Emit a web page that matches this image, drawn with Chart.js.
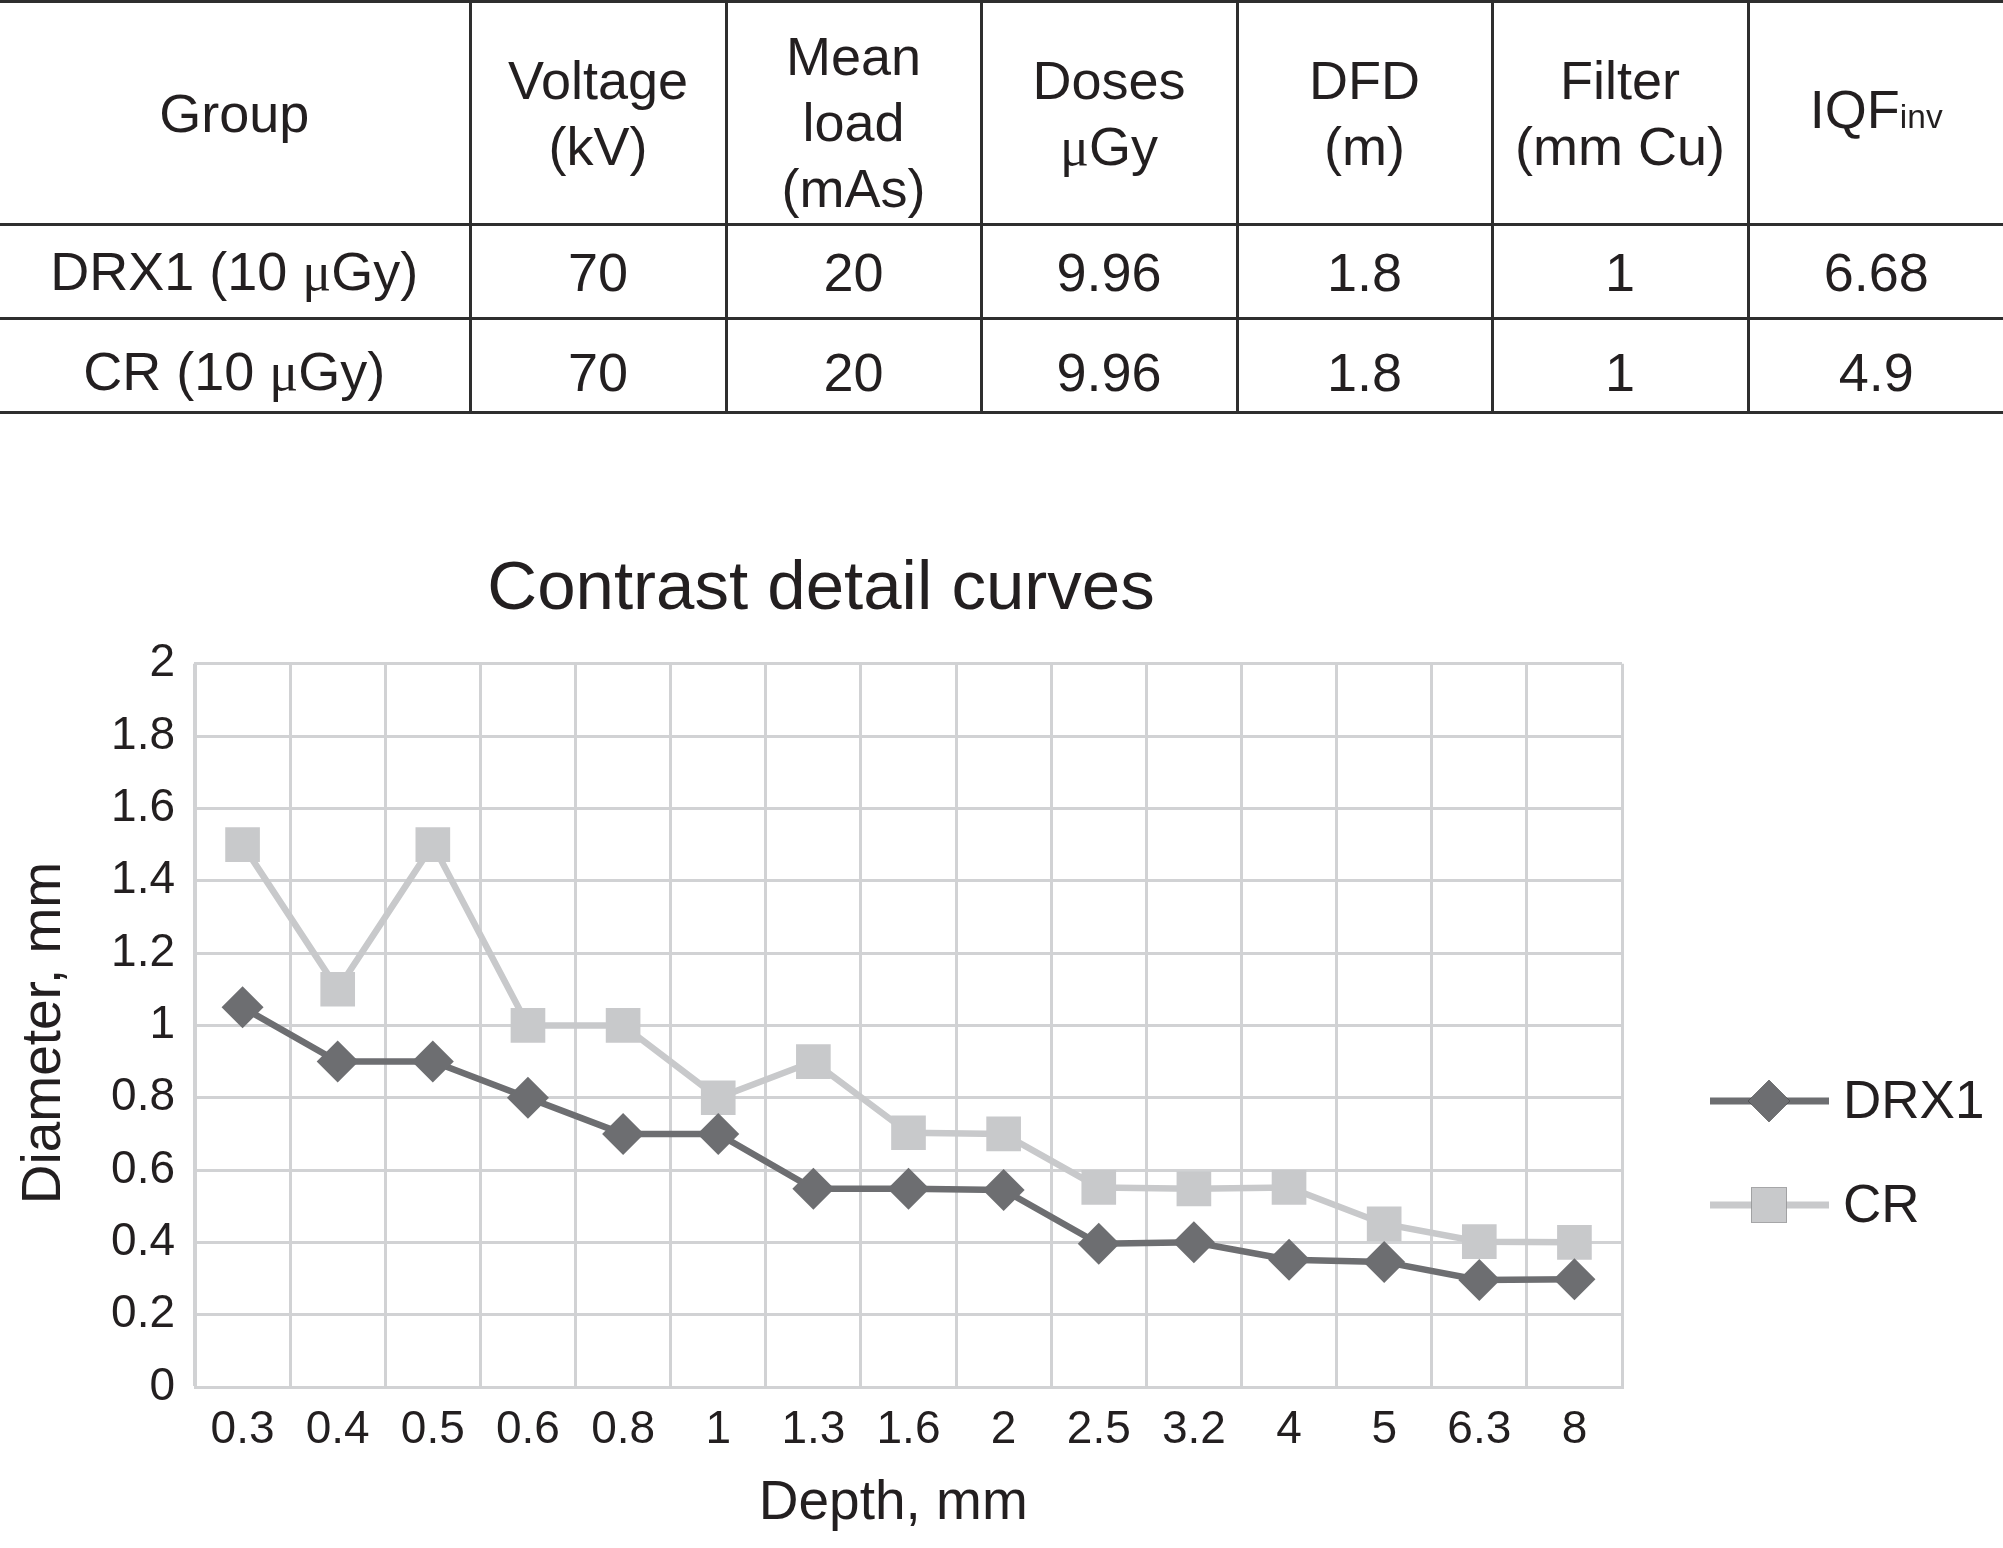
<!DOCTYPE html>
<html>
<head>
<meta charset="utf-8">
<script src="https://cdn.jsdelivr.net/npm/chart.js"></script>
<style>
  html, body { margin: 0; padding: 0; background: #fff; }
  body { width: 2003px; height: 1548px; position: relative; overflow: hidden; font-family: "Liberation Sans", Arial, sans-serif; color: #231f20; }
  #tbl { position: absolute; left: 0; top: 0; width: 2003px; border-collapse: collapse; table-layout: fixed; z-index: 2; }
  #tbl td { border: 3px solid #2e2e2e; text-align: center; vertical-align: middle; font-size: 54px; line-height: 66px; padding: 0; }
  #tbl tr td:first-child { border-left: none; }
  #tbl tr td:last-child { border-right: none; }
  #tbl tr.r2 td { padding-top: 12px; }
  #tbl td.three { padding-top: 18px; }
  #tbl .mu { font-family: "Liberation Serif", "DejaVu Serif", serif; }
  #tbl .sub { font-size: 0.62em; }
  #c { position: absolute; left: 0; top: 0; z-index: 1; }
</style>
</head>
<body>
<table id="tbl"></table>
<canvas id="c" width="2003" height="1548"></canvas>
<script>
// ---- Table data ----
const tableHeaders = ['Group', 'Voltage<br>(kV)', 'Mean<br>load<br>(mAs)', 'Doses<br><span class="mu">\u03bc</span>Gy', 'DFD<br>(m)', 'Filter<br>(mm Cu)', 'IQF<span class="sub">inv</span>'];
const tableGroups = ['DRX1 (10 <span class="mu">\u03bc</span>Gy)', 'CR (10 <span class="mu">\u03bc</span>Gy)'];
const voltageKV = ['70', '70'];
const meanLoadMAs = ['20', '20'];
const dosesUGy = ['9.96', '9.96'];
const dfdM = ['1.8', '1.8'];
const filterMmCu = ['1', '1'];
const iqfInv = ['6.68', '4.9'];

// ---- Chart data ----
const depthLabels = ['0.3', '0.4', '0.5', '0.6', '0.8', '1', '1.3', '1.6', '2', '2.5', '3.2', '4', '5', '6.3', '8'];
const drx1Values = [1.05, 0.9, 0.9, 0.8, 0.7, 0.7, 0.548, 0.548, 0.545, 0.396, 0.4, 0.352, 0.346, 0.296, 0.298];
const crValues = [1.5, 1.1, 1.5, 1.0, 1.0, 0.8, 0.9, 0.703, 0.7, 0.552, 0.548, 0.552, 0.451, 0.402, 0.4];
const seriesNames = ['DRX1', 'CR'];

// ---- Build table ----
(function () {
  const colWidths = [470, 256, 255, 256, 255, 256, 255];
  const rowHeights = [223, 94, 94];
  const tbl = document.getElementById('tbl');
  const cg = document.createElement('colgroup');
  colWidths.forEach(w => { const c = document.createElement('col'); c.style.width = w + 'px'; cg.appendChild(c); });
  tbl.appendChild(cg);
  const rows = [tableHeaders];
  for (let i = 0; i < tableGroups.length; i++) {
    rows.push([tableGroups[i], voltageKV[i], meanLoadMAs[i], dosesUGy[i], dfdM[i], filterMmCu[i], iqfInv[i]]);
  }
  rows.forEach((r, ri) => {
    const tr = document.createElement('tr');
    tr.style.height = rowHeights[ri] + 'px';
    if (ri === 2) tr.className = 'r2';
    r.forEach(v => {
      const td = document.createElement('td');
      td.innerHTML = v;
      if ((v.match(/<br>/g) || []).length === 2) td.className = 'three';
      tr.appendChild(td);
    });
    tbl.appendChild(tr);
  });
})();

// ---- Chart ----
const FONT = '"Liberation Sans", Arial, sans-serif';
const TEXT = '#231f20';
const GRID = '#d1d2d4';
const DARK = '#6d6e71';
const LIGHT = '#c8c9cb';

const legendPlugin = {
  id: 'sideLegend',
  afterDraw(chart) {
    const ctx = chart.ctx;
    const ys = [1101, 1205];
    chart.data.datasets.forEach((ds, i) => {
      const y = ys[i];
      ctx.save();
      ctx.strokeStyle = ds.borderColor;
      ctx.lineWidth = 7;
      ctx.beginPath();
      ctx.moveTo(1710, y);
      ctx.lineTo(1829, y);
      ctx.stroke();
      Chart.helpers.drawPoint(ctx, {
        pointStyle: ds.pointStyle,
        radius: ds.legendRadius,
        borderWidth: 0,
        rotation: 0
      }, 1769, y);
      ctx.fillStyle = ds.pointBackgroundColor;
      ctx.fill();
      ctx.fillStyle = TEXT;
      ctx.font = '53px ' + FONT;
      ctx.textAlign = 'left';
      ctx.textBaseline = 'middle';
      ctx.fillText(ds.label, 1843, y + 2);
      ctx.restore();
    });
  }
};

new Chart(document.getElementById('c'), {
  type: 'line',
  data: {
    labels: depthLabels,
    datasets: [
      {
        label: seriesNames[0],
        data: drx1Values,
        borderColor: DARK,
        backgroundColor: DARK,
        pointBackgroundColor: DARK,
        pointBorderColor: DARK,
        pointBorderWidth: 0,
        borderWidth: 6.5,
        pointStyle: 'rectRot',
        pointRadius: 21,
        legendRadius: 21,
        tension: 0,
        fill: false
      },
      {
        label: seriesNames[1],
        data: crValues,
        borderColor: LIGHT,
        backgroundColor: LIGHT,
        pointBackgroundColor: LIGHT,
        pointBorderColor: LIGHT,
        pointBorderWidth: 0,
        borderWidth: 6.5,
        pointStyle: 'rect',
        pointRadius: 24.5,
        legendRadius: 25,
        tension: 0,
        fill: false
      }
    ]
  },
  options: {
    responsive: false,
    animation: false,
    devicePixelRatio: 1,
    events: [],
    layout: { padding: { left: 20, right: 381, top: 549, bottom: 0 } },
    plugins: {
      legend: { display: false },
      tooltip: { enabled: false },
      title: {
        display: true,
        text: 'Contrast detail curves',
        color: TEXT,
        font: { family: FONT, size: 69, weight: 'normal', lineHeight: 1.2 },
        padding: { top: 0, bottom: 32 }
      }
    },
    scales: {
      x: {
        type: 'category',
        offset: true,
        grid: { offset: true, color: GRID, lineWidth: 3, drawTicks: false },
        border: { color: GRID, width: 3 },
        ticks: { color: TEXT, font: { family: FONT, size: 46 }, padding: 16, maxRotation: 0, autoSkip: false },
        title: {
          display: true, text: 'Depth, mm\u00a0\u00a0', color: TEXT,
          font: { family: FONT, size: 55, lineHeight: 1.2 },
          padding: { top: 0, bottom: 11 }
        },
        afterFit(scale) { scale.height = 161; }
      },
      y: {
        min: 0,
        max: 2,
        grid: { color: GRID, lineWidth: 3, drawTicks: false },
        border: { color: GRID, width: 3 },
        ticks: {
          stepSize: 0.2,
          color: TEXT,
          font: { family: FONT, size: 46 },
          padding: 20,
          callback: v => String(Number(v.toFixed(1)))
        },
        title: {
          display: true, text: 'Diameter, mm\u00a0', color: TEXT,
          font: { family: FONT, size: 55, lineHeight: 0.9 },
          padding: { top: 0, bottom: 0 }
        },
        afterFit(scale) { scale.width = 175; }
      }
    }
  },
  plugins: [legendPlugin]
});
</script>
</body>
</html>
